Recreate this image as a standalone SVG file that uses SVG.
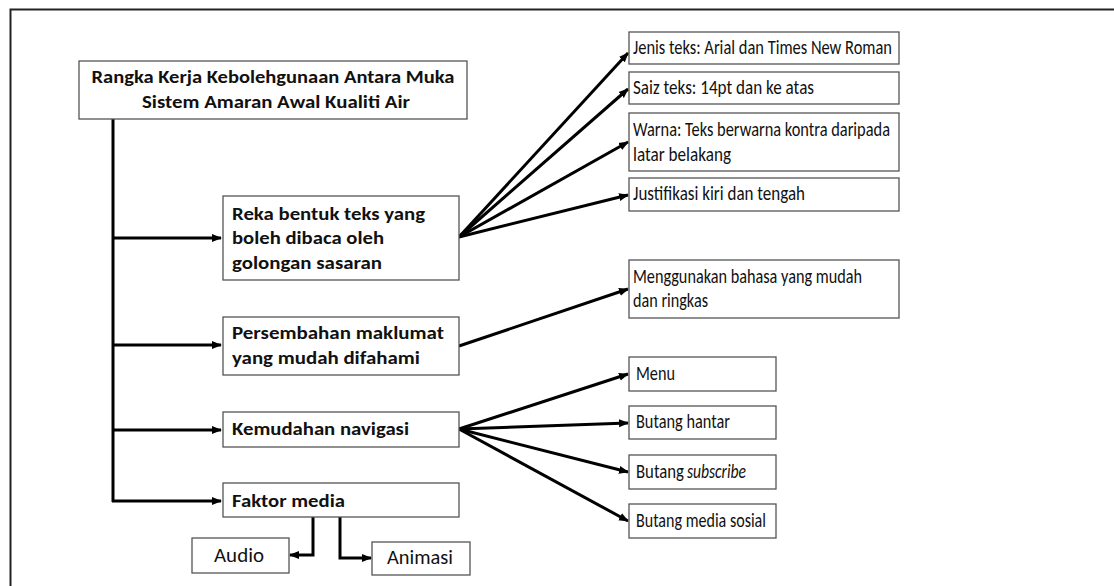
<svg xmlns="http://www.w3.org/2000/svg" width="1114" height="586" viewBox="0 0 1114 586">
<style>
.box{fill:#fff;stroke:#555;stroke-width:1.3}
.t{font-family:Carlito,Calibri,Lato,"Open Sans",sans-serif;fill:#111}
.b{font-weight:bold;font-size:19px}
.r{font-size:19.5px}
.c{fill:none;stroke:#000;stroke-width:3}
</style>
<defs>
<marker id="ah" markerUnits="userSpaceOnUse" markerWidth="10" markerHeight="10" refX="9" refY="5" orient="auto">
<path d="M0,1 L10,5 L0,9 Z" fill="#000"/>
</marker>
</defs>
<rect x="0" y="0" width="1114" height="586" fill="#fff"/>
<path d="M10.5,600 V9.5 H1114" fill="none" stroke="#222" stroke-width="2"/>

<g id="connectors">
<path class="c" d="M113,119 V502"/>
<path class="c" d="M112,238 H221" marker-end="url(#ah)"/>
<path class="c" d="M112,345 H221" marker-end="url(#ah)"/>
<path class="c" d="M112,430 H221" marker-end="url(#ah)"/>
<path class="c" d="M112,501 H221" marker-end="url(#ah)"/>
<path class="c" d="M459,237 L628,53" marker-end="url(#ah)"/>
<path class="c" d="M459,237 L628,89" marker-end="url(#ah)"/>
<path class="c" d="M459,237 L628,142" marker-end="url(#ah)"/>
<path class="c" d="M459,237 L628,195" marker-end="url(#ah)"/>
<path class="c" d="M459,346 L628,289" marker-end="url(#ah)"/>
<path class="c" d="M459,429 L628,374" marker-end="url(#ah)"/>
<path class="c" d="M459,429 L628,423" marker-end="url(#ah)"/>
<path class="c" d="M459,429 L628,472" marker-end="url(#ah)"/>
<path class="c" d="M459,429 L628,521" marker-end="url(#ah)"/>
<path class="c" d="M313,517 V555 H290" marker-end="url(#ah)"/>
<path class="c" d="M340,517 V558 H371" marker-end="url(#ah)"/>
</g>

<g id="n-title">
<rect class="box" x="79" y="61" width="388" height="58"/>
<text class="t b" x="273" y="83" text-anchor="middle" textLength="363" lengthAdjust="spacingAndGlyphs">Rangka Kerja Kebolehgunaan Antara Muka</text>
<text class="t b" x="276" y="108" text-anchor="middle" textLength="268" lengthAdjust="spacingAndGlyphs">Sistem Amaran Awal Kualiti Air</text>
</g>

<g id="n-reka">
<rect class="box" x="223" y="196" width="236" height="84"/>
<text class="t b" x="232" y="220" textLength="193" lengthAdjust="spacingAndGlyphs">Reka bentuk teks yang</text>
<text class="t b" x="232" y="244" textLength="152" lengthAdjust="spacingAndGlyphs">boleh dibaca oleh</text>
<text class="t b" x="232" y="269" textLength="150" lengthAdjust="spacingAndGlyphs">golongan sasaran</text>
</g>

<g id="n-persembahan">
<rect class="box" x="223" y="317" width="236" height="58"/>
<text class="t b" x="232" y="339" textLength="212" lengthAdjust="spacingAndGlyphs">Persembahan maklumat</text>
<text class="t b" x="232" y="364" textLength="188" lengthAdjust="spacingAndGlyphs">yang mudah difahami</text>
</g>

<g id="n-kemudahan">
<rect class="box" x="223" y="412" width="236" height="35"/>
<text class="t b" x="232" y="435" textLength="177" lengthAdjust="spacingAndGlyphs">Kemudahan navigasi</text>
</g>

<g id="n-faktor">
<rect class="box" x="223" y="483" width="236" height="34"/>
<text class="t b" x="232" y="507" textLength="113" lengthAdjust="spacingAndGlyphs">Faktor media</text>
</g>

<g id="n-audio">
<rect class="box" x="192" y="538" width="97" height="35"/>
<text class="t r" x="214" y="562" textLength="50" lengthAdjust="spacingAndGlyphs">Audio</text>
</g>

<g id="n-animasi">
<rect class="box" x="372" y="542" width="98" height="33"/>
<text class="t r" x="387" y="564" textLength="66" lengthAdjust="spacingAndGlyphs">Animasi</text>
</g>

<g id="n-jenis">
<rect class="box" x="629" y="32" width="270" height="32"/>
<text class="t r" x="633" y="54" textLength="259" lengthAdjust="spacingAndGlyphs">Jenis teks: Arial dan Times New Roman</text>
</g>

<g id="n-saiz">
<rect class="box" x="629" y="72" width="270" height="32"/>
<text class="t r" x="633" y="94" textLength="181" lengthAdjust="spacingAndGlyphs">Saiz teks:  14pt dan ke atas</text>
</g>

<g id="n-warna">
<rect class="box" x="629" y="113" width="270" height="58"/>
<text class="t r" x="633" y="136" textLength="257" lengthAdjust="spacingAndGlyphs">Warna: Teks berwarna kontra daripada</text>
<text class="t r" x="633" y="161" textLength="98" lengthAdjust="spacingAndGlyphs">latar belakang</text>
</g>

<g id="n-justifikasi">
<rect class="box" x="629" y="178" width="270" height="33"/>
<text class="t r" x="633" y="200" textLength="172" lengthAdjust="spacingAndGlyphs">Justifikasi kiri dan tengah</text>
</g>

<g id="n-menggunakan">
<rect class="box" x="629" y="260" width="270" height="58"/>
<text class="t r" x="633" y="283" textLength="229" lengthAdjust="spacingAndGlyphs">Menggunakan bahasa yang mudah</text>
<text class="t r" x="633" y="307" textLength="75" lengthAdjust="spacingAndGlyphs">dan ringkas</text>
</g>

<g id="n-menu">
<rect class="box" x="629" y="357" width="147" height="34"/>
<text class="t r" x="636" y="380" textLength="39" lengthAdjust="spacingAndGlyphs">Menu</text>
</g>

<g id="n-hantar">
<rect class="box" x="629" y="406" width="147" height="33"/>
<text class="t r" x="636" y="428" textLength="94" lengthAdjust="spacingAndGlyphs">Butang hantar</text>
</g>

<g id="n-subscribe">
<rect class="box" x="629" y="455" width="147" height="34"/>
<text class="t r" x="636" y="478" textLength="48" lengthAdjust="spacingAndGlyphs">Butang</text>
<text class="t r" x="687" y="478" font-style="italic" textLength="59" lengthAdjust="spacingAndGlyphs">subscribe</text>
</g>

<g id="n-sosial">
<rect class="box" x="629" y="504" width="147" height="34"/>
<text class="t r" x="636" y="527" textLength="130" lengthAdjust="spacingAndGlyphs">Butang media sosial</text>
</g>
</svg>
